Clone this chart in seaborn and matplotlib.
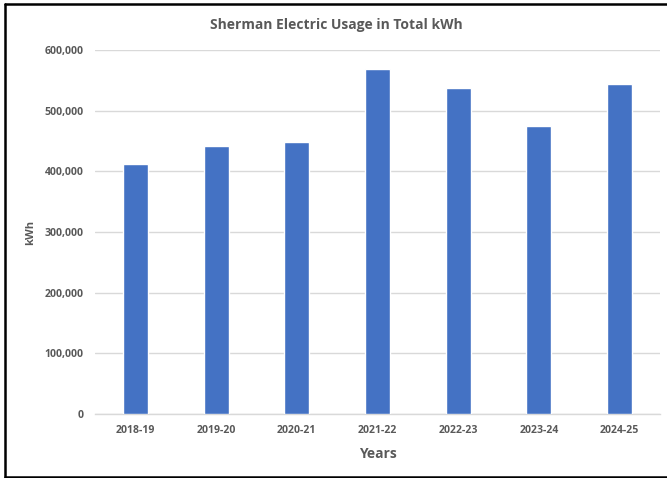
import matplotlib
matplotlib.use("Agg")
import matplotlib.pyplot as plt
import seaborn as sns
import pandas as pd
from matplotlib.ticker import FuncFormatter
from matplotlib.lines import Line2D

years = ["2018-19", "2019-20", "2020-21", "2021-22", "2022-23", "2023-24", "2024-25"]
usage_kwh = [412000, 442000, 448000, 569000, 538000, 475000, 544000]
y_ticks = [0, 100000, 200000, 300000, 400000, 500000, 600000]

df = pd.DataFrame({"Years": years, "kWh": usage_kwh})

sns.set_theme(style="white")
plt.rcParams["font.family"] = ["Open Sans", "DejaVu Sans"]
plt.rcParams["font.weight"] = "bold"

gray = "#595959"
fig = plt.figure(figsize=(6.67, 4.78), dpi=100)
ax = fig.add_axes([95 / 667, 1 - 414 / 478, 565 / 667, 364 / 478])

sns.barplot(data=df, x="Years", y="kWh", color="#4472C4", width=0.31,
            saturation=1, ax=ax, zorder=3)

ax.set_ylim(0, 600000)
ax.set_yticks(y_ticks)
ax.yaxis.set_major_formatter(FuncFormatter(lambda v, p: f"{int(v):,}"))
ax.grid(axis="y", color="#d9d9d9", linewidth=1, zorder=0)
ax.set_axisbelow(True)
for s in ["top", "right", "left"]:
    ax.spines[s].set_visible(False)
ax.spines["bottom"].set_color("#d9d9d9")
ax.spines["bottom"].set_linewidth(1)
ax.tick_params(axis="both", length=0, labelsize=7.6, labelcolor=gray)
ax.tick_params(axis="y", pad=8)
ax.tick_params(axis="x", pad=8)

ax.set_xlabel("Years", fontsize=10, fontweight="bold", color=gray, labelpad=8)
ax.set_ylabel("kWh", fontsize=8, fontweight="bold", color=gray, labelpad=6)

fig.text(336 / 667, 1 - 25 / 478, "Sherman Electric Usage in Total kWh",
         ha="center", va="center", fontsize=10, fontweight="bold", color=gray)

# chart frame (left, top, bottom)
fig.add_artist(Line2D([5 / 667, 5 / 667], [1 - 476.5 / 478, 1 - 3.5 / 478],
                      transform=fig.transFigure, color="black", linewidth=1.8))
fig.add_artist(Line2D([5 / 667, 1.0], [1 - 3.5 / 478, 1 - 3.5 / 478],
                      transform=fig.transFigure, color="black", linewidth=1.8))
fig.add_artist(Line2D([5 / 667, 1.0], [1 - 476.5 / 478, 1 - 476.5 / 478],
                      transform=fig.transFigure, color="black", linewidth=1.8))

fig.savefig("out.png", dpi=100)
